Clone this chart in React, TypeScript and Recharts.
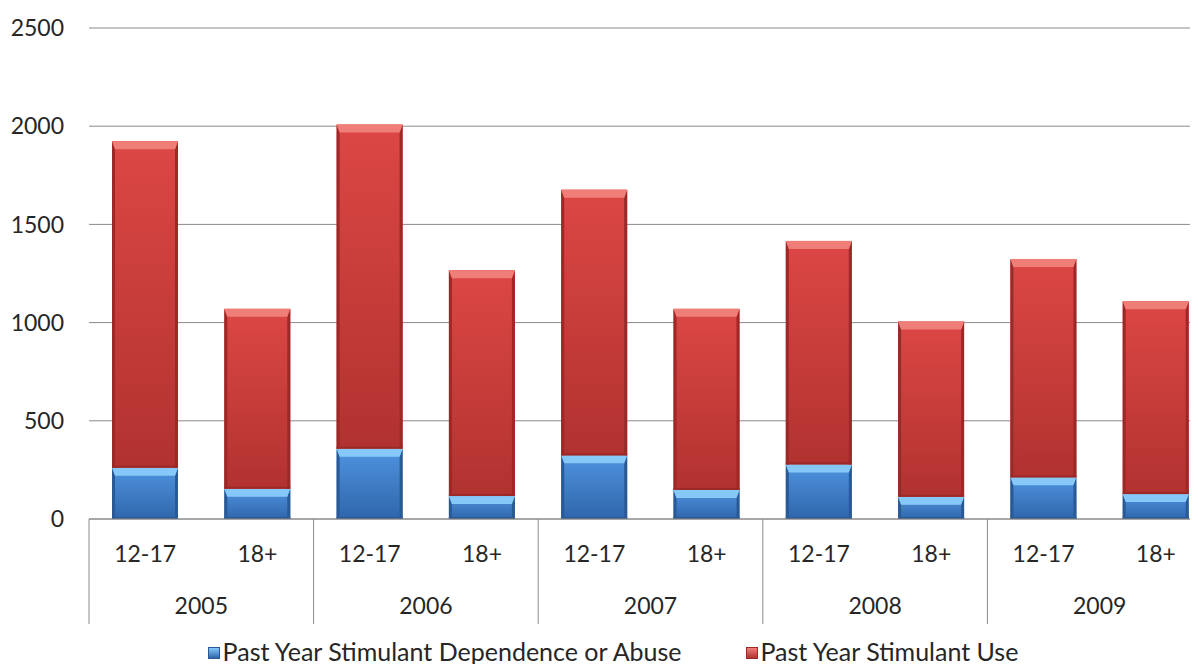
import { BarChart, Bar, XAxis, YAxis, CartesianGrid, Legend } from 'recharts'

const ageGroups = ['12-17', '18+', '12-17', '18+', '12-17', '18+', '12-17', '18+', '12-17', '18+']
const years = ['2005', '2005', '2006', '2006', '2007', '2007', '2008', '2008', '2009', '2009']
const dependenceOrAbuse = [261, 154, 358, 117, 324, 148, 278, 113, 212, 127]
const stimulantUse = [1663, 916, 1651, 1150, 1353, 922, 1138, 893, 1112, 982]
const yTicks = [0, 500, 1000, 1500, 2000, 2500]

const data = ageGroups.map((age, i) => ({
  age,
  year: years[i],
  dependence: dependenceOrAbuse[i],
  use: stimulantUse[i],
}))

const FONT = 'Lato, "Noto Sans", sans-serif'
const TEXT = '#262626'
const CHART_W = 1222
const CHART_H = 672
const Y_W = 89
const MARGIN = { top: 28, right: 10, bottom: 6, left: 0 }
const BAND = (CHART_W - MARGIN.left - MARGIN.right - Y_W) / ageGroups.length

const blue = { id: 'blueBar', top: '#4f93df', bottom: '#2f66ab', light: '#86c8f8', side: '#2a5a95' }
const red = { id: 'redBar', top: '#dc4744', bottom: '#b13230', light: '#f07e78', side: '#9c2927' }

type Palette = typeof blue

// excel-ish bevelled column
const makeBevel = (p: Palette) => (props: any) => {
  const { x, y, width, height } = props
  if (!height || height <= 0) return null
  const b = Math.min(8, height / 2)
  const s = 3
  return (
    <g>
      <defs>
        <linearGradient id={p.id} x1="0" y1="0" x2="0" y2="1">
          <stop offset="0%" stopColor={p.top} />
          <stop offset="100%" stopColor={p.bottom} />
        </linearGradient>
      </defs>
      <rect x={x} y={y} width={width} height={height} fill={`url(#${p.id})`} />
      <polygon points={`${x},${y} ${x + s},${y + b} ${x + s},${y + height} ${x},${y + height}`} fill={p.side} />
      <polygon points={`${x + width},${y} ${x + width - s},${y + b} ${x + width - s},${y + height} ${x + width},${y + height}`} fill={p.side} />
      <polygon points={`${x},${y} ${x + width},${y} ${x + width - s},${y + b} ${x + s},${y + b}`} fill={p.light} />
      <rect x={x} y={y + height - 2} width={width} height={2} fill={p.side} />
    </g>
  )
}

// age label + year label / divider every second category
const GroupTick = (props: any) => {
  const { x, y, payload, index } = props
  const first = index % 2 === 0
  return (
    <g>
      <text x={x} y={y + 34} textAnchor="middle" dominantBaseline="central" fill={TEXT} fontSize={23} fontFamily={FONT}>
        {payload.value}
      </text>
      {first && (
        <>
          <line x1={x - BAND / 2} y1={y} x2={x - BAND / 2} y2={y + 105} stroke="#8a8a8a" />
          <text x={x + BAND / 2} y={y + 86} textAnchor="middle" dominantBaseline="central" fill={TEXT} fontSize={23} fontFamily={FONT}>
            {data[index].year}
          </text>
        </>
      )}
    </g>
  )
}

const legendItems = [
  { label: 'Past Year Stimulant Dependence or Abuse', p: blue },
  { label: 'Past Year Stimulant Use', p: red },
]

const LegendContent = () => (
  <div style={{ display: 'flex', justifyContent: 'center', alignItems: 'center', height: 30, lineHeight: '30px', gap: 64, fontFamily: FONT, fontSize: 25, color: TEXT, paddingLeft: 14 }}>
    {legendItems.map((it) => (
      <div key={it.label} style={{ display: 'flex', alignItems: 'center', gap: 3 }}>
        <span style={{ width: 12, height: 12, marginTop: 3, display: 'inline-block', background: `linear-gradient(${it.p.light}, ${it.p.bottom})`, border: `1px solid ${it.p.side}`, boxSizing: 'border-box' }} />
        <span>{it.label}</span>
      </div>
    ))}
  </div>
)

export default function App() {
  return (
    <div style={{ margin: -8, width: 1198, height: 672, overflow: 'hidden', background: '#fff' }}>
      <BarChart width={CHART_W} height={CHART_H} data={data} margin={MARGIN}>
        <CartesianGrid vertical={false} stroke="#8a8a8a" />
        <YAxis
          width={Y_W}
          domain={[0, 2500]}
          ticks={yTicks}
          axisLine={false}
          tickLine={false}
          tickSize={0}
          tickMargin={25}
          tick={{ fill: TEXT, fontSize: 23, fontFamily: FONT }}
        />
        <XAxis
          dataKey="age"
          height={117}
          interval={0}
          tickLine={false}
          tickSize={0}
          tickMargin={0}
          axisLine={{ stroke: '#8a8a8a' }}
          tick={<GroupTick />}
        />
        <Legend verticalAlign="bottom" content={<LegendContent />} />
        <Bar dataKey="dependence" stackId="a" barSize={66} shape={makeBevel(blue)} isAnimationActive={false} name="Past Year Stimulant Dependence or Abuse" />
        <Bar dataKey="use" stackId="a" barSize={66} shape={makeBevel(red)} isAnimationActive={false} name="Past Year Stimulant Use" />
      </BarChart>
    </div>
  )
}
